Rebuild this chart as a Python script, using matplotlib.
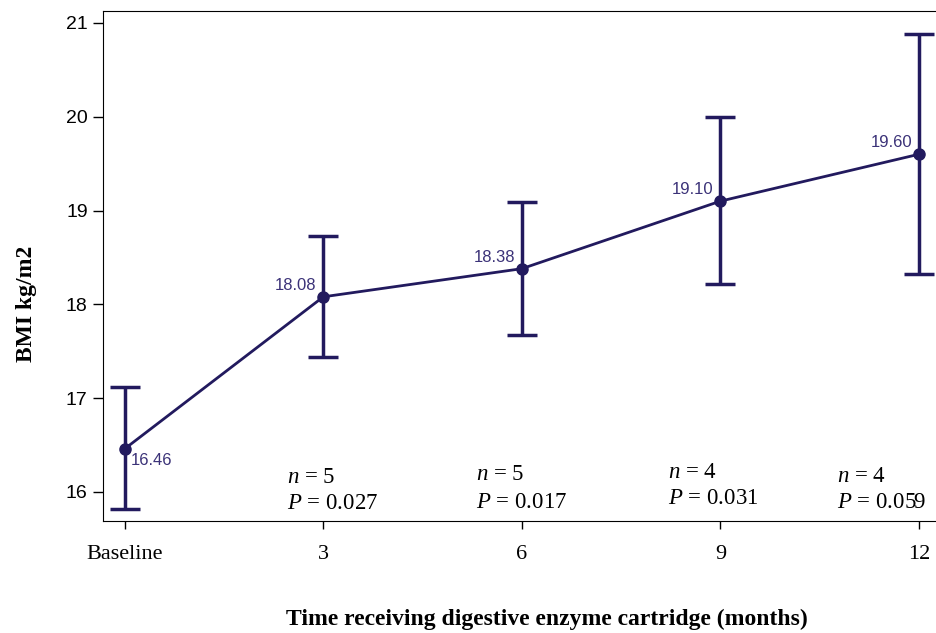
import matplotlib
matplotlib.use("Agg")
import matplotlib.pyplot as plt

# data
labels = ["Baseline", "3", "6", "9", "12"]
bmi = [16.46, 18.08, 18.38, 19.10, 19.60]
err_hi = [17.12, 18.73, 19.09, 20.00, 20.88]
err_lo = [15.82, 17.44, 17.67, 18.22, 18.32]
n_vals = [5, 5, 4, 4]
p_vals = ["0.027", "0.017", "0.031", "0.059"]

LINE = "#221a5e"
LABEL = "#3b3278"

plt.rcParams["mathtext.fontset"] = "custom"
plt.rcParams["mathtext.rm"] = "Liberation Serif"
plt.rcParams["mathtext.it"] = "Liberation Serif:italic"

fig = plt.figure(figsize=(9.36, 6.33), dpi=100)
ax = fig.add_axes([0.110, 0.177, 0.89, 0.806])

x = list(range(len(bmi)))
yerr = [[b - lo for b, lo in zip(bmi, err_lo)], [hi - b for b, hi in zip(bmi, err_hi)]]
ax.errorbar(x, bmi, yerr=yerr, color=LINE, lw=2, marker="o", ms=8,
            capsize=11, capthick=2.5, elinewidth=2.5)

# value labels
ax.annotate(f"{bmi[0]:.2f}", (x[0], bmi[0]), xytext=(4, -3), textcoords="offset points",
            ha="left", va="top", color=LABEL, fontsize=12, family="Liberation Sans")
for i in range(1, len(bmi)):
    ax.annotate(f"{bmi[i]:.2f}", (x[i], bmi[i]), xytext=(-5, 3), textcoords="offset points",
                ha="right", va="bottom", color=LABEL, fontsize=12, family="Liberation Sans")

# n / P annotations (baselines)
ann_x = [0.815, 1.77, 2.735, 3.585]
n_y = [16.10, 16.13, 16.15, 16.11]
p_y = [15.82, 15.83, 15.87, 15.83]
for xi, ny, py, n, p in zip(ann_x, n_y, p_y, n_vals, p_vals):
    ax.text(xi, ny, rf"$\it{{n}}$ = {n}", fontsize=16.5, ha="left", va="baseline",
            family="Liberation Serif", zorder=5)
    ax.text(xi, py, rf"$\it{{P}}$ = {p}", fontsize=16.5, ha="left", va="baseline",
            family="Liberation Serif", zorder=5)

ax.set_xlim(-0.11, 4.086)
ax.set_ylim(15.69, 21.13)
ax.set_xticks(x)
ax.set_xticklabels(labels, family="Liberation Serif", fontsize=16)
ax.set_yticks([16, 17, 18, 19, 20, 21])
ax.set_yticklabels(["16", "17", "18", "19", "20", "21"], family="Liberation Sans", fontsize=14)
ax.tick_params(axis="x", length=6, width=1, pad=11)
ax.tick_params(axis="y", length=7, width=1, pad=4)
ax.spines["right"].set_visible(False)

ax.set_ylabel("BMI kg/m2", family="Liberation Serif", fontweight="bold", fontsize=17)
ax.yaxis.set_label_coords(-0.079, 0.425)
ax.set_xlabel("Time receiving digestive enzyme cartridge (months)", family="Liberation Serif",
              fontweight="bold", fontsize=17)
ax.xaxis.set_label_coords(0.533, -0.172)

fig.savefig("out.png", dpi=100)
